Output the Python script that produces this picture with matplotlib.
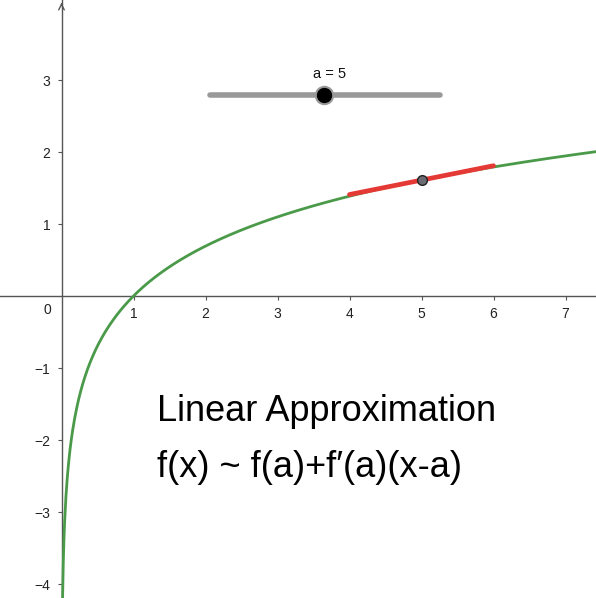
import numpy as np
import matplotlib
matplotlib.use("Agg")
import matplotlib.pyplot as plt

plt.rcParams['font.family'] = ['Liberation Sans', 'DejaVu Sans']

# data
a = 5
x_ticks = [1, 2, 3, 4, 5, 6, 7]
y_ticks = [-4, -3, -2, -1, 1, 2, 3]
slider_min, slider_max = 2.06, 5.25   # slider track ends (in axis units)
slider_y = 2.79
slider_knob = 3.65
title_lines = ["Linear Approximation", "f(x) ~ f(a)+f\u2032(a)(x-a)"]

fig = plt.figure(figsize=(5.96, 5.98), dpi=100)
ax = fig.add_axes([0, 0, 1, 1])
ax.set_xlim(-61.5 / 72, (596 - 61.5) / 72)
ax.set_ylim((296 - 598) / 72, 296 / 72)

for s in ['top', 'right']:
    ax.spines[s].set_visible(False)
for s in ['left', 'bottom']:
    ax.spines[s].set_position(('data', 0))
    ax.spines[s].set_color('#555555')
    ax.spines[s].set_linewidth(1.0)

ax.set_xticks(x_ticks)
ax.set_yticks(y_ticks)
ax.tick_params(direction='out', length=3, width=0.8, colors='#555555',
               labelcolor='#222222', labelsize=10, pad=5)
ax.text(-0.19, -0.1, "0", ha='center', va='top', fontsize=10, color='#222222')

# arrow on y axis
ax.annotate("", xy=(0, 296 / 72), xytext=(0, 296 / 72 - 0.1),
            arrowprops=dict(arrowstyle='->', color='#555555', lw=1.0))

# f(x) = ln(x)
xs = np.linspace(0.015, 7.5, 800)
ax.plot(xs, np.log(xs), color='#4a9a4a', lw=2.0, zorder=3)

# tangent line at a
xt = np.array([a - 1, a + 1])
ax.plot(xt, np.log(a) + (xt - a) / a, color='#e53935', lw=3.4,
        solid_capstyle='round', zorder=4)
ax.plot([a], [np.log(a)], 'o', ms=7, mfc='#6b6b73', mec='#222222', mew=1.0, zorder=5)

# slider
ax.plot([slider_min, slider_max], [slider_y, slider_y], color='#999999', lw=4,
        solid_capstyle='round', zorder=4)
ax.plot([slider_knob], [slider_y], 'o', ms=13, mfc='#999999', mec='#999999', zorder=5)
ax.plot([slider_knob], [slider_y], 'o', ms=10, mfc='black', mec='black', zorder=6)
ax.text(slider_knob + 0.08, slider_y + 0.2, f"a = {a}", ha='center', va='bottom',
        fontsize=10.5, color='#111111')

# caption
ax.text(1.32, -1.6, title_lines[0], fontsize=26, va='center', color='black')
ax.text(1.32, -2.38, title_lines[1], fontsize=26, va='center', color='black')

fig.savefig("out.png", dpi=100)
